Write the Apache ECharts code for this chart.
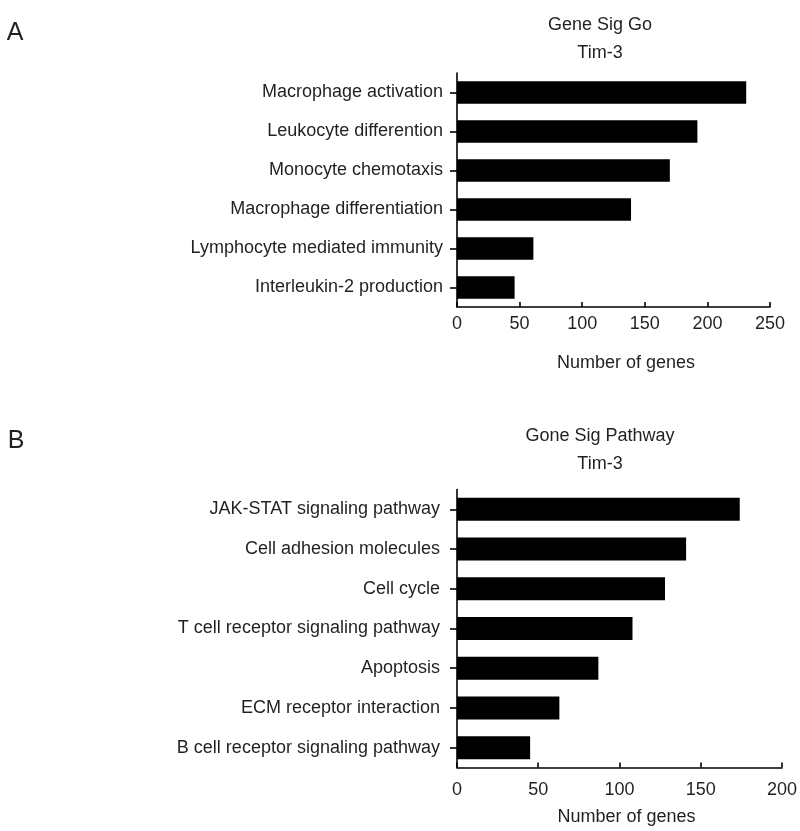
<!DOCTYPE html>
<html>
<head>
<meta charset="utf-8">
<script src="https://cdn.jsdelivr.net/npm/echarts@6/dist/echarts.min.js"></script>
<style>
html,body{margin:0;padding:0;background:#fff;}
#chart{width:800px;height:831px;}
</style>
</head>
<body>
<div id="chart"></div>
<script>
// Panel A: Gene Sig Go
const categoriesA = ["Macrophage activation", "Leukocyte differention", "Monocyte chemotaxis", "Macrophage differentiation", "Lymphocyte mediated immunity", "Interleukin-2 production"];
const valuesA = [231, 192, 170, 139, 61, 46];
const ticksA = [0, 50, 100, 150, 200, 250];

// Panel B: Gone Sig Pathway
const categoriesB = ["JAK-STAT signaling pathway", "Cell adhesion molecules", "Cell cycle", "T cell receptor signaling pathway", "Apoptosis", "ECM receptor interaction", "B cell receptor signaling pathway"];
const valuesB = [174, 141, 128, 108, 87, 63, 45];
const ticksB = [0, 50, 100, 150, 200];

const FONT = '"Liberation Sans", Arial, Helvetica, sans-serif';
const TXT = '#231f20';
const LW = 1.6;

function xAxisCfg(gridIndex, ticks, margin) {
  return {
    type: 'value', gridIndex: gridIndex,
    min: ticks[0], max: ticks[ticks.length - 1], interval: ticks[1] - ticks[0],
    axisLine: { show: true, lineStyle: { color: '#000', width: LW } },
    axisTick: { show: true, inside: true, length: 5, lineStyle: { color: '#000', width: LW } },
    axisLabel: { color: TXT, fontSize: 18, fontFamily: FONT, margin: margin },
    splitLine: { show: false }
  };
}
function yAxisCfg(gridIndex, cats, margin) {
  return {
    type: 'category', gridIndex: gridIndex, data: cats, inverse: true,
    axisLine: { show: true, lineStyle: { color: '#000', width: LW } },
    axisTick: { show: true, alignWithLabel: true, length: 7, lineStyle: { color: '#000', width: LW } },
    axisLabel: { color: TXT, fontSize: 18, fontFamily: FONT, margin: margin },
    splitLine: { show: false }
  };
}
function label(text, x, y, size) {
  return {
    type: 'text', x: x, y: y,
    style: { text: text, fill: TXT, fontSize: size || 18, fontFamily: FONT,
             align: 'center', verticalAlign: 'middle', textAlign: 'center', textVerticalAlign: 'middle' }
  };
}

const chart = echarts.init(document.getElementById('chart'), null, { renderer: 'canvas' });
chart.setOption({
  backgroundColor: '#fff',
  animation: false,
  grid: [
    { left: 457, top: 73, width: 313, height: 234 },
    { left: 457, top: 489.5, width: 329.5, height: 278 }
  ],
  xAxis: [xAxisCfg(0, ticksA, 8), xAxisCfg(1, ticksB, 14)],
  yAxis: [yAxisCfg(0, categoriesA, 14), yAxisCfg(1, categoriesB, 17)],
  series: [
    { type: 'bar', xAxisIndex: 0, yAxisIndex: 0, data: valuesA, barWidth: 22.5, itemStyle: { color: '#000' } },
    { type: 'bar', xAxisIndex: 1, yAxisIndex: 1, data: valuesB, barWidth: 23, itemStyle: { color: '#000' } }
  ],
  graphic: [
    label('A', 15, 33, 25),
    label('Gene Sig Go', 600, 25),
    label('Tim-3', 600, 53),
    label('Number of genes', 626, 363),
    label('B', 16, 441, 25),
    label('Gone Sig Pathway', 600, 436),
    label('Tim-3', 600, 464),
    label('Number of genes', 626.5, 817)
  ]
});
</script>
</body>
</html>
